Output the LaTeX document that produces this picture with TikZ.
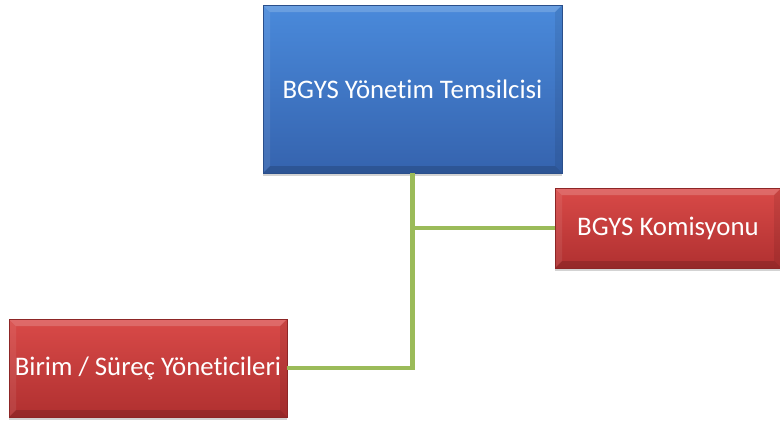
\documentclass[tikz,border=0pt]{standalone}
\usepackage{fontspec}
\setmainfont[Ligatures=NoCommon]{Carlito}
\usetikzlibrary{shadows}
\definecolor{bluetop}{HTML}{4A8ADB}
\definecolor{bluebot}{HTML}{3563AE}
\definecolor{redtop}{HTML}{D94A48}
\definecolor{redbot}{HTML}{B03030}
\definecolor{linkgreen}{HTML}{9BBB59}
\tikzset{
  box/.style={rectangle, inner sep=0pt, text=white, font=\fontsize{26.8}{30}\selectfont,
    drop shadow={shadow xshift=0pt, shadow yshift=-3pt, opacity=0.35},
    path picture={
      \fill[white, opacity=0.18] (path picture bounding box.north west) -- (path picture bounding box.north east)
        -- ([xshift=-7pt, yshift=-7pt]path picture bounding box.north east) -- ([xshift=7pt, yshift=-7pt]path picture bounding box.north west) -- cycle;
      \fill[white, opacity=0.08] (path picture bounding box.north west) -- (path picture bounding box.south west)
        -- ([xshift=7pt, yshift=7pt]path picture bounding box.south west) -- ([xshift=7pt, yshift=-7pt]path picture bounding box.north west) -- cycle;
      \fill[black, opacity=0.08] (path picture bounding box.north east) -- (path picture bounding box.south east)
        -- ([xshift=-7pt, yshift=7pt]path picture bounding box.south east) -- ([xshift=-7pt, yshift=-7pt]path picture bounding box.north east) -- cycle;
      \fill[black, opacity=0.15] (path picture bounding box.south west) -- (path picture bounding box.south east)
        -- ([xshift=-7pt, yshift=7pt]path picture bounding box.south east) -- ([xshift=7pt, yshift=7pt]path picture bounding box.south west) -- cycle;
    }},
  bluebox/.style={box, top color=bluetop, bottom color=bluebot, draw=bluebot!80!black, line width=0.4pt},
  redbox/.style={box, top color=redtop, bottom color=redbot, draw=redbot!80!black, line width=0.4pt},
  link/.style={draw=linkgreen, line width=4.5pt}
}
\begin{document}
\begin{tikzpicture}[x=1pt, y=-1pt]
\useasboundingbox (0,0) rectangle (780,421);
\node[bluebox, minimum width=299pt, minimum height=168pt] (top) at (412.5,89) {BGYS Yönetim Temsilcisi};
\node[redbox, minimum width=226pt, minimum height=80pt] (kom) at (668,228) {BGYS Komisyonu};
\node[redbox, minimum width=278pt, minimum height=98pt] (bir) at (148,368) {Birim / Süreç Yöneticileri};
\draw[link] (top.south) |- (bir.east);
\draw[link] (top.south |- kom.west) -- (kom.west);
\end{tikzpicture}
\end{document}
